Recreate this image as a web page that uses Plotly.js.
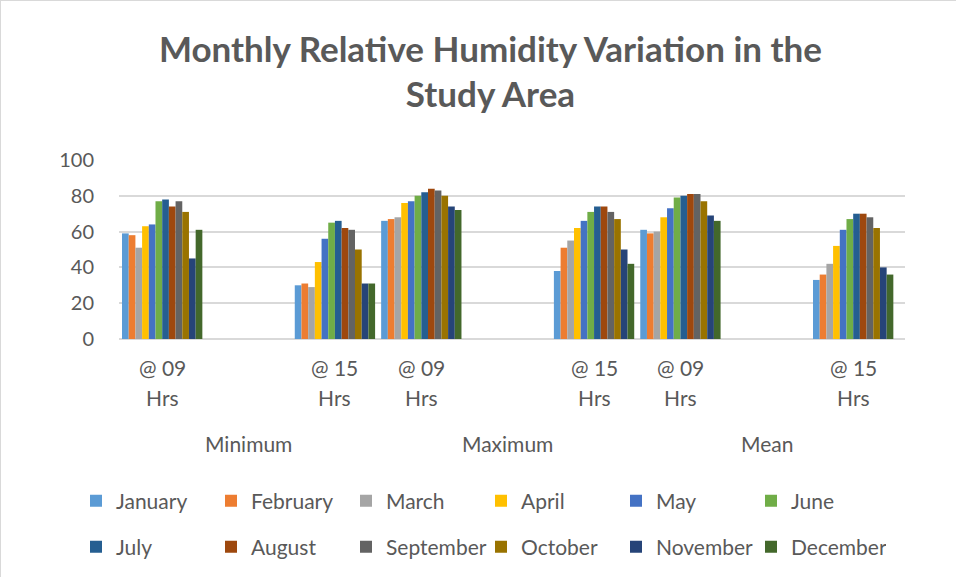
<!DOCTYPE html>
<html>
<head>
<meta charset="utf-8">
<script src="https://cdn.plot.ly/plotly-3.0.1.min.js"></script>
<style>
html,body{margin:0;padding:0;background:#fff}
#plot{width:956px;height:577px;box-sizing:border-box;border:1px solid #d9d9d9}
</style>
</head>
<body>
<div id="plot"></div>
<script>
// --- Data ---
const months = ['January','February','March','April','May','June','July','August','September','October','November','December'];
const colors = ['#5B9BD5','#ED7D31','#A5A5A5','#FFC000','#4472C4','#70AD47','#255E91','#9E480E','#636363','#997300','#264478','#43682B'];
// slot positions of the 6 categories (blank slots between @09 and @15 as in the sheet)
const slots = [0, 2, 3, 5, 6, 8];
const hourLabels = ['@ 09','@ 15','@ 09','@ 15','@ 09','@ 15'];
const groups = ['Minimum','Maximum','Mean'];
const groupPos = [1, 4, 7];

// rows: Min@09, Min@15, Max@09, Max@15, Mean@09, Mean@15
const minAt09  = [59, 58, 51, 63, 64, 77, 78, 74, 77, 71, 45, 61];
const minAt15  = [30, 31, 29, 43, 56, 65, 66, 62, 61, 50, 31, 31];
const maxAt09  = [66, 67, 68, 76, 77, 80, 82, 84, 83, 80, 74, 72];
const maxAt15  = [38, 51, 55, 62, 66, 71, 74, 74, 71, 67, 50, 42];
const meanAt09 = [61, 59, 60, 68, 73, 79, 80, 81, 81, 77, 69, 66];
const meanAt15 = [33, 36, 42, 52, 61, 67, 70, 70, 68, 62, 40, 36];
const rows = [minAt09, minAt15, maxAt09, maxAt15, meanAt09, meanAt15];

const gray = '#595959';
const fontFam = 'Lato, "Open Sans", sans-serif';

// legend split in blocks so each row keeps 6 entries (long names not last in a block)
const legendOf = ['legend','legend','legend','legend2','legend2','legend2',
                  'legend3','legend3','legend4','legend4','legend4','legend4'];

const traces = months.map((m, i) => ({
  type: 'bar',
  name: m,
  x: slots,
  y: rows.map(r => r[i]),
  marker: {color: colors[i]},
  legend: legendOf[i],
  hoverinfo: 'name+y'
}));

// category labels (two lines) and group labels under the axis
const annotations = [];
slots.forEach((s, i) => {
  annotations.push({x: s, xref: 'x', y: 0, yref: 'paper', yshift: -28, yanchor: 'middle',
    text: hourLabels[i], showarrow: false, font: {size: 21, color: gray, family: fontFam}});
  annotations.push({x: s, xref: 'x', y: 0, yref: 'paper', yshift: -58, yanchor: 'middle',
    text: 'Hrs', showarrow: false, font: {size: 21, color: gray, family: fontFam}});
});
groups.forEach((g, i) => {
  annotations.push({x: groupPos[i], xref: 'x', y: 0, yref: 'paper', yshift: -104, yanchor: 'middle',
    text: g, showarrow: false, font: {size: 21, color: gray, family: fontFam}});
});

function legendAt(px, py) {
  return {
    x: px / 956, y: 1 - py / 577,
    orientation: 'h', xref: 'container', yref: 'container', xanchor: 'left', yanchor: 'middle',
    entrywidth: 90, entrywidthmode: 'pixels', itemwidth: 30,
    font: {size: 21, color: gray, family: fontFam}, bgcolor: 'rgba(0,0,0,0)'
  };
}

const layout = {
  width: 956, height: 577,
  margin: {l: 118, r: 52, t: 159, b: 239},
  paper_bgcolor: '#fff', plot_bgcolor: '#fff',
  font: {family: fontFam, color: gray},
  title: {
    text: '<b>Monthly Relative Humidity Variation in the<br>Study Area</b>',
    x: 0.512, xanchor: 'center', y: 0.895, yanchor: 'middle',
    font: {size: 35, color: gray, family: fontFam}
  },
  barmode: 'group', bargap: 0.07, bargroupgap: 0,
  xaxis: {
    range: [-0.5, 8.6], tickvals: slots, showticklabels: false,
    showgrid: false, zeroline: false, showline: false, ticks: '', fixedrange: true
  },
  yaxis: {
    range: [0, 100], dtick: 20, showgrid: true, gridcolor: '#d9d9d9', gridwidth: 2,
    zeroline: true, zerolinecolor: '#d9d9d9', zerolinewidth: 2,
    tickfont: {size: 20, color: gray, family: fontFam}, ticklabelstandoff: 24, fixedrange: true
  },
  legend: legendAt(75, 500),
  legend2: legendAt(480, 500),
  legend3: legendAt(75, 546),
  legend4: legendAt(345, 546),
  annotations: annotations,
  showlegend: true
};

Plotly.newPlot('plot', traces, layout, {displayModeBar: false, staticPlot: true});
</script>
</body>
</html>
